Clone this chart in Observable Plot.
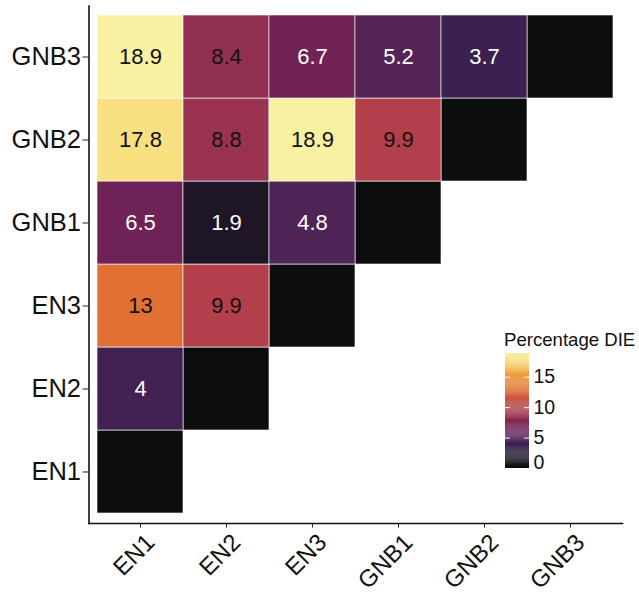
<!DOCTYPE html>
<html>
<head>
<meta charset="utf-8">
<script src="https://cdn.jsdelivr.net/npm/d3@7"></script>
<script src="https://cdn.jsdelivr.net/npm/@observablehq/plot@0.6"></script>
<style>
  html, body { margin: 0; padding: 0; background: #fff; }
  #wrap { position: relative; width: 639px; height: 593px; font-family: "Liberation Sans", Arial, Helvetica, sans-serif; }
  #chart { position: absolute; left: 0; top: 0; }
  #legend-title { position: absolute; left: 504px; top: 329px; font-size: 18.6px; color: #111; white-space: nowrap; }
  #legend { position: absolute; left: 505px; top: 348px; }
</style>
</head>
<body>
<div id="wrap">
  <div id="chart"></div>
  <div id="legend-title"></div>
  <div id="legend"></div>
</div>
<script>
// ---- data ----
const categories = ["EN1", "EN2", "EN3", "GNB1", "GNB2", "GNB3"];
// values per row (y category), listed in x order EN1, EN2, ... (diagonal not included)
const rowEN1 = [];
const rowEN2 = [4];
const rowEN3 = [13, 9.9];
const rowGNB1 = [6.5, 1.9, 4.8];
const rowGNB2 = [17.8, 8.8, 18.9, 9.9];
const rowGNB3 = [18.9, 8.4, 6.7, 5.2, 3.7];
const legendTitle = "Percentage DIE";
const legendTicks = [0, 5, 10, 15];
const valueMax = 18.9;

// colour ramp (inferno-like as it appears in the reference)
const colorStops = [0, 1.9, 3.7, 5, 6.6, 8.6, 9.9, 13, 15.5, 17.8, 18.9];
const colorRange = ["#0e0d10", "#1e1526", "#3b2152", "#532458", "#702256", "#963152", "#b33f4b", "#e07034", "#eea23c", "#f8df80", "#f7f1a1"];

// ---- build table ----
const rows = {EN1: rowEN1, EN2: rowEN2, EN3: rowEN3, GNB1: rowGNB1, GNB2: rowGNB2, GNB3: rowGNB3};
const cells = [];
for (const y of categories) {
  rows[y].forEach((v, i) => cells.push({x: categories[i], y, value: v}));
}

const font = "'Liberation Sans', Arial, Helvetica, sans-serif";
const colorScale = {type: "linear", domain: colorStops, range: colorRange, interpolate: "rgb"};

const chart = Plot.plot({
  width: 639,
  height: 593,
  marginLeft: 88.5,
  marginRight: 17,
  marginTop: 5.5,
  marginBottom: 70,
  style: {fontFamily: font, color: "#111", background: "white"},
  x: {domain: categories, paddingInner: 0, paddingOuter: 0.1, label: null},
  y: {domain: categories.slice().reverse(), paddingInner: 0, paddingOuter: 0.1, label: null},
  color: colorScale,
  marks: [
    Plot.cell(categories, {x: d => d, y: d => d, fill: "#0c0e0d", stroke: "white", strokeOpacity: 0.6, strokeWidth: 1, inset: 0}),
    Plot.cell(cells, {x: "x", y: "y", fill: "value", stroke: "white", strokeOpacity: 0.6, strokeWidth: 1, inset: 0}),
    Plot.text(cells, {x: "x", y: "y", text: d => String(d.value), fill: d => d.value >= 8 ? "#111" : "white", fontSize: 22, fontFamily: font}),
    // x tick marks (no labels)
    Plot.axisX({tickSize: 4.5, tickFormat: () => "", stroke: "#222", label: null}),
    // x tick labels, rotated 45°
    Plot.axisX({tickSize: 0, tickRotate: -45, fontSize: 24, tickPadding: 4, dx: 10, dy: 11, fill: "#111", label: null}),
    Plot.axisY({fontSize: 25.5, tickSize: 6, tickPadding: 2, stroke: "#222", fill: "#111", label: null}),
    Plot.frame({anchor: "left", stroke: "#111", strokeWidth: 1.6}),
    Plot.frame({anchor: "bottom", stroke: "#111", strokeWidth: 1.6})
  ]
});
document.getElementById("chart").appendChild(chart);

// ---- legend ----
document.getElementById("legend-title").textContent = legendTitle;
const ramp = d3.range(0, valueMax, valueMax / 120);
const legend = Plot.plot({
  width: 80,
  height: 135,
  marginLeft: 0,
  marginRight: 56,
  marginTop: 5,
  marginBottom: 15,
  style: {fontFamily: font, color: "#111", background: "transparent", overflow: "visible"},
  x: {domain: [0, 1], axis: null},
  y: {domain: [0, valueMax], label: null},
  color: colorScale,
  marks: [
    Plot.rect(ramp, {x1: 0, x2: 1, y1: d => d, y2: d => Math.min(valueMax, d + valueMax / 120 + 0.02), fill: d => d}),
    Plot.ruleY(legendTicks.filter(t => t > 0), {x1: 0, x2: 0.2, stroke: "white", strokeWidth: 1}),
    Plot.ruleY(legendTicks.filter(t => t > 0), {x1: 0.8, x2: 1, stroke: "white", strokeWidth: 1}),
    Plot.axisY({anchor: "right", ticks: legendTicks.filter(t => t > 0), tickSize: 0, tickPadding: 4, fontSize: 19.5, fill: "#111", label: null}),
    Plot.axisY({anchor: "right", ticks: legendTicks.filter(t => t === 0), tickSize: 0, tickPadding: 4, dy: -6, fontSize: 19.5, fill: "#111", label: null})
  ]
});
document.getElementById("legend").appendChild(legend);
</script>
</body>
</html>
